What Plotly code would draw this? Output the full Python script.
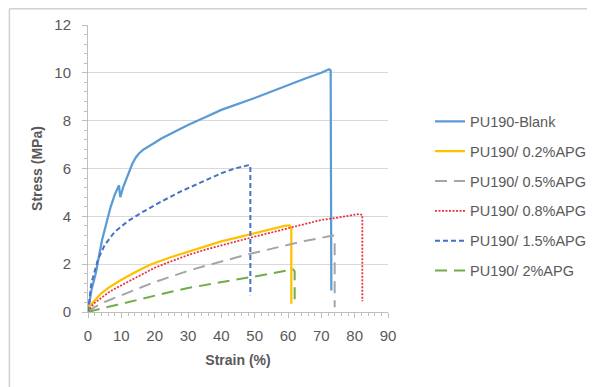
import plotly.graph_objects as go

# ---- data (strain %, stress MPa) ----
blank_x = [0, 0.5, 1, 2.3, 4.2, 5.5, 6.8, 8, 9.3, 9.5, 9.7, 10.5, 11.5, 12.3, 13.3, 14.3, 15.3, 16.5, 18, 20, 22, 26, 30, 35, 40, 50, 60, 65, 70, 71.5, 72.3, 72.8, 73, 73]
blank_y = [0, 0.5, 0.9, 1.6, 3.0, 3.7, 4.4, 4.9, 5.3, 5.0, 4.8, 5.2, 5.55, 5.85, 6.2, 6.45, 6.63, 6.78, 6.92, 7.08, 7.25, 7.55, 7.82, 8.13, 8.45, 8.95, 9.5, 9.75, 10.0, 10.1, 10.15, 10.1, 5.0, 0.9]

apg02_x = [0, 0.5, 1.8, 4, 6, 7.8, 10, 15, 18.8, 25, 32.8, 40, 45, 50, 55, 59, 60.5, 61, 61]
apg02_y = [0, 0.25, 0.45, 0.78, 1.0, 1.17, 1.35, 1.72, 1.99, 2.3, 2.65, 2.95, 3.12, 3.3, 3.45, 3.6, 3.62, 3.5, 0.35]

apg05_x = [0, 2, 5, 8.8, 15, 20, 25, 30, 35, 40, 45, 50, 55, 60, 65, 70, 73.5, 74, 74]
apg05_y = [0, 0.2, 0.42, 0.64, 0.98, 1.25, 1.5, 1.72, 1.92, 2.12, 2.3, 2.48, 2.65, 2.82, 2.97, 3.1, 3.2, 3.1, 0.2]

apg08_x = [0, 1, 2, 4, 6, 8, 10, 15, 20, 25, 30, 35, 40, 45, 50, 55, 60, 65, 70, 75, 80, 81.5, 82.3, 82.3]
apg08_y = [0, 0.22, 0.38, 0.6, 0.8, 0.97, 1.12, 1.5, 1.85, 2.12, 2.38, 2.6, 2.8, 2.97, 3.15, 3.32, 3.5, 3.65, 3.85, 3.95, 4.08, 4.1, 4.05, 0.45]

apg15_x = [0, 1, 3, 5, 8, 12, 16, 22, 28, 34, 40, 44, 48.5, 48.7, 48.7]
apg15_y = [0, 1.2, 2.2, 2.8, 3.35, 3.8, 4.15, 4.62, 5.05, 5.42, 5.8, 6.0, 6.15, 6.1, 0.7]

apg2_x = [0, 2, 5, 8.8, 15, 20, 25, 30, 35, 40, 45, 50, 55, 60, 61.5, 62, 62]
apg2_y = [0, 0.08, 0.18, 0.3, 0.52, 0.7, 0.85, 1.0, 1.13, 1.26, 1.37, 1.48, 1.6, 1.72, 1.78, 1.7, 0.5]

names = ["PU190-Blank", "PU190/ 0.2%APG", "PU190/ 0.5%APG", "PU190/ 0.8%APG", "PU190/ 1.5%APG", "PU190/ 2%APG"]
xs = [blank_x, apg02_x, apg05_x, apg08_x, apg15_x, apg2_x]
ys = [blank_y, apg02_y, apg05_y, apg08_y, apg15_y, apg2_y]
colors = ["#5B9BD5", "#FFC000", "#A5A5A5", "#E8323C", "#4472C4", "#70AD47"]
dashes = ["solid", "solid", "12px,7px", "2px,1.5px", "5px,3px", "12px,7px"]
widths = [2.25, 2.25, 2.0, 1.75, 2.0, 2.0]

fig = go.Figure()
for i in range(6):
    fig.add_trace(go.Scatter(
        x=xs[i], y=ys[i], mode="lines", name=names[i],
        legendgroup=str(i),
        line=dict(color=colors[i], dash=dashes[i], width=widths[i]),
    ))

font_family = "Liberation Sans Narrow, Liberation Sans, Arial"
fig.update_layout(
    width=587, height=379,
    margin=dict(l=80, r=207, t=17, b=75, autoexpand=False),
    paper_bgcolor="white", plot_bgcolor="white",
    font=dict(family=font_family, size=12, color="#595959"),
    showlegend=True,
    legend=dict(x=1.14, y=0.72, xanchor="left", yanchor="top",
                tracegroupgap=8, font=dict(size=14.5, color="#595959"),
                bgcolor="rgba(0,0,0,0)"),
    xaxis=dict(range=[0, 90], dtick=10, showgrid=False, zeroline=False, automargin=False,
               showline=True, linecolor="#BFBFBF", linewidth=1,
               ticks="outside", ticklen=5, tickcolor="#BFBFBF", ticklabelstandoff=5,
               minor=dict(dtick=2, ticks="outside", ticklen=3, tickcolor="#BFBFBF"),
               title=dict(text="<b>Strain (%)</b>", standoff=12, font=dict(size=14, color="#595959")),
               tickfont=dict(size=15, color="#595959")),
    yaxis=dict(range=[0, 12], dtick=2, showgrid=True, gridcolor="#D9D9D9", gridwidth=1,
               zeroline=False, showline=True, linecolor="#BFBFBF", linewidth=1, automargin=False,
               ticks="outside", ticklen=5, tickcolor="#BFBFBF", ticklabelstandoff=8,
               minor=dict(dtick=0.4, ticks="outside", ticklen=3, tickcolor="#BFBFBF", showgrid=False),
               title=dict(text="<b>Stress (MPa)</b>", standoff=8, font=dict(size=14, color="#595959")),
               tickfont=dict(size=15, color="#595959")),
)

# outer frame (top and left edges visible)
fig.add_shape(type="line", xref="paper", yref="paper", x0=-0.262, x1=1.7, y0=1.057, y1=1.057,
              line=dict(color="#D0D0D0", width=1.5))
fig.add_shape(type="line", xref="paper", yref="paper", x0=-0.262, x1=-0.262, y0=1.057, y1=-0.3,
              line=dict(color="#D0D0D0", width=1.5))

fig.write_html("out.html")
